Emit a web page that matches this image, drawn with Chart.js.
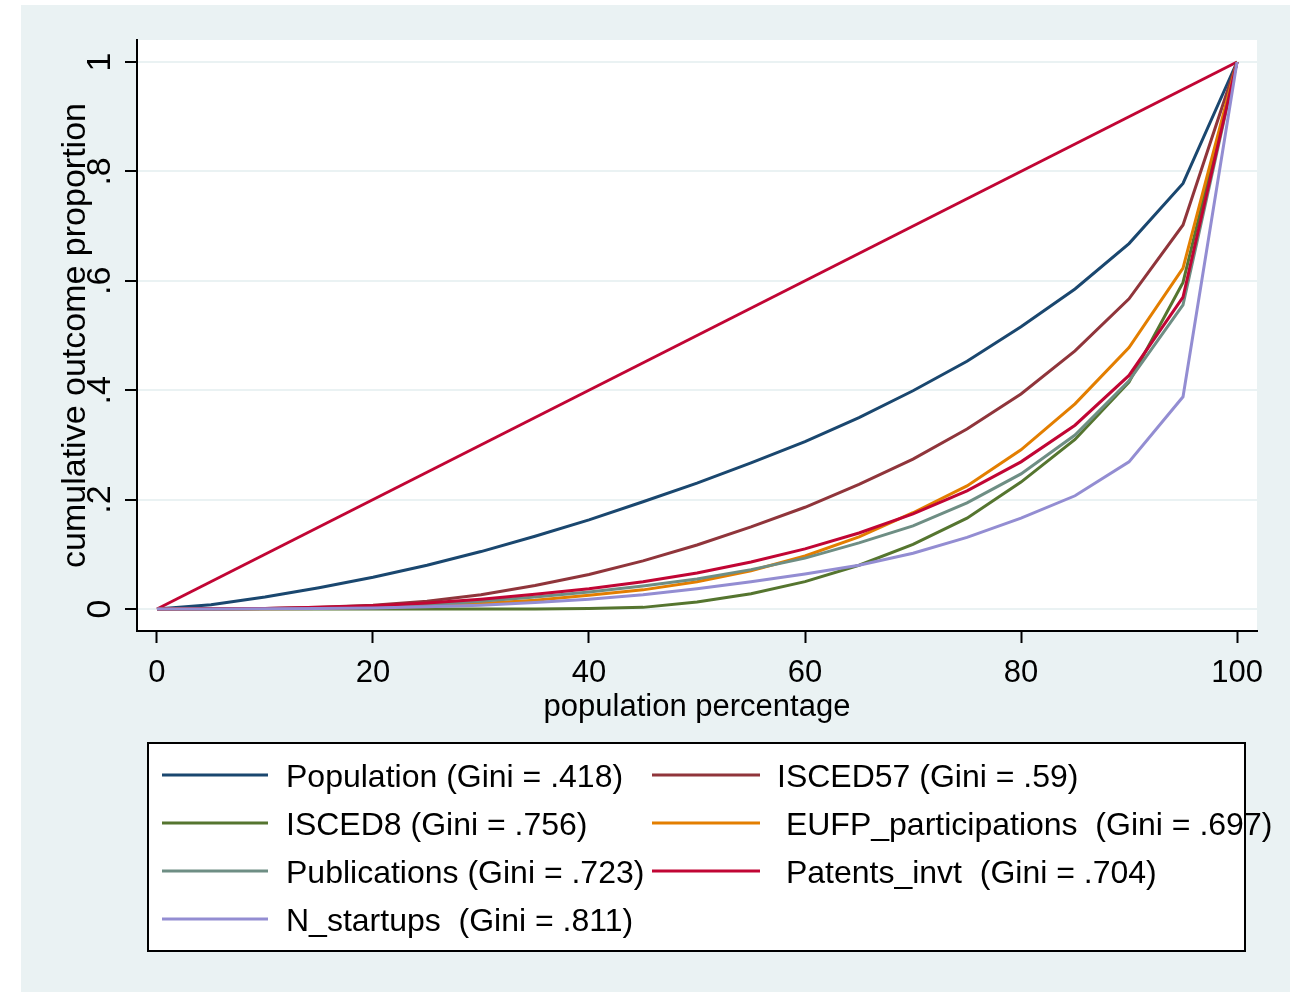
<!DOCTYPE html>
<html>
<head>
<meta charset="utf-8">
<title>Lorenz curves</title>
<script src="https://cdn.jsdelivr.net/npm/chart.js@4.4.1/dist/chart.umd.min.js"></script>
<style>
  html, body { margin: 0; padding: 0; background: #fff; }
  #wrap { position: relative; width: 1294px; height: 992px; }
</style>
</head>
<body>
<div id="wrap"><canvas id="lorenz" width="1294" height="992"></canvas></div>
<script>
// --- values (cumulative share at each 5% of population) ---
const popPct = [0, 5, 10, 15, 20, 25, 30, 35, 40, 45, 50, 55, 60, 65, 70, 75, 80, 85, 90, 95, 100];

const population   = [0, .008, .022, .039, .058, .080, .105, .133, .163, .196, .230, .267, .306, .350, .399, .453, .516, .585, .668, .778, 1];
const isced57      = [0, .0005, .001, .003, .007, .014, .026, .043, .063, .088, .117, .150, .186, .228, .274, .329, .393, .472, .567, .702, 1];
const isced8       = [0, 0, 0, 0, 0, 0, 0, 0, .001, .003, .013, .028, .050, .080, .118, .166, .232, .310, .415, .597, 1];
const eufp         = [0, 0, .0005, .001, .003, .006, .010, .016, .025, .035, .050, .070, .097, .132, .176, .225, .291, .375, .478, .623, 1];
const publications = [0, 0, .001, .002, .004, .008, .014, .022, .031, .042, .055, .072, .093, .121, .152, .194, .247, .318, .417, .556, 1];
const patents      = [0, .0003, .001, .003, .006, .011, .018, .027, .037, .050, .066, .086, .110, .139, .174, .216, .269, .336, .427, .570, 1];
const startups     = [0, 0, .0005, .001, .002, .004, .007, .012, .018, .026, .037, .050, .064, .080, .102, .131, .166, .207, .269, .388, 1];

// line of perfect equality
const equalityX = [0, 100];
const equalityY = [0, 1];

const seriesLabels = [
    'Population (Gini = .418)',
    'ISCED57 (Gini = .59)',
    'ISCED8 (Gini = .756)',
    ' EUFP_participations  (Gini = .697)',
    'Publications (Gini = .723)',
    ' Patents_invt  (Gini = .704)',
    'N_startups  (Gini = .811)'
];
const seriesValues = [population, isced57, isced8, eufp, publications, patents, startups];
const seriesColors = ['#1A476F', '#90353B', '#55752F', '#E37E00', '#6E8E84', '#C10534', '#938DD2'];

const xTicks = [0, 20, 40, 60, 80, 100];
const yTicks = [0, .2, .4, .6, .8, 1];
const yTickLabels = ['0', '.2', '.4', '.6', '.8', '1'];

const FONT = '"Liberation Sans", Arial, Helvetica, sans-serif';
Chart.defaults.font.family = FONT;
Chart.defaults.color = '#000';

const toPoints = (xs, ys) => xs.map((x, i) => ({ x, y: ys[i] }));

// Stata draws later plots on top; chart.js draws lower "order" on top
const datasets = [{
    label: 'equality',
    data: toPoints(equalityX, equalityY),
    borderColor: '#C10534',
    order: 100,
    inLegend: false
}].concat(seriesValues.map((vals, i) => ({
    label: seriesLabels[i],
    data: toPoints(popPct, vals),
    borderColor: seriesColors[i],
    order: seriesValues.length - i,
    inLegend: true
})));

// --- background: outer graph region + white plot region ---
const backdrop = {
    id: 'backdrop',
    beforeDraw(chart) {
        const { ctx, chartArea: a } = chart;
        ctx.save();
        ctx.fillStyle = '#fff';
        ctx.fillRect(0, 0, chart.width, chart.height);
        ctx.fillStyle = '#EAF2F3';
        ctx.fillRect(21, 5, 1269, 987);
        ctx.fillStyle = '#fff';
        ctx.fillRect(a.left, a.top, a.right - a.left, a.bottom - a.top);
        ctx.restore();
    }
};

// --- vertical y tick labels (Stata rotates them) ---
const yTickText = {
    id: 'yTickText',
    afterDraw(chart) {
        const { ctx, scales: { y } } = chart;
        ctx.save();
        ctx.font = '34px ' + FONT;
        ctx.fillStyle = '#000';
        ctx.textAlign = 'center';
        ctx.textBaseline = 'alphabetic';
        yTicks.forEach((v, i) => {
            ctx.save();
            ctx.translate(110, y.getPixelForValue(v));
            ctx.rotate(-Math.PI / 2);
            ctx.fillText(yTickLabels[i], 0, 0);
            ctx.restore();
        });
        ctx.restore();
    }
};

// --- boxed two-column legend under the plot ---
const boxLegend = {
    id: 'boxLegend',
    afterDraw(chart) {
        const { ctx } = chart;
        const box = { left: 148, top: 743, width: 1097, height: 208 };
        const cols = [{ from: 162, to: 268, text: 286 }, { from: 652, to: 760, text: 777 }];
        const rows = [775, 823, 871, 919];
        const items = chart.data.datasets.filter(d => d.inLegend);

        ctx.save();
        ctx.fillStyle = '#fff';
        ctx.fillRect(box.left, box.top, box.width, box.height);
        ctx.font = '32px ' + FONT;
        ctx.textBaseline = 'alphabetic';
        items.forEach((d, i) => {
            const c = cols[i % 2];
            const ry = rows[Math.floor(i / 2)];
            ctx.strokeStyle = d.borderColor;
            ctx.lineWidth = 3;
            ctx.beginPath();
            ctx.moveTo(c.from, ry);
            ctx.lineTo(c.to, ry);
            ctx.stroke();
            ctx.fillStyle = '#000';
            ctx.fillText(d.label, c.text, ry + 12);
        });
        ctx.strokeStyle = '#000';
        ctx.lineWidth = 2;
        ctx.strokeRect(box.left, box.top, box.width, box.height);
        ctx.restore();
    }
};

new Chart(document.getElementById('lorenz').getContext('2d'), {
    type: 'line',
    data: { datasets },
    options: {
        responsive: false,
        animation: false,
        layout: { padding: { left: 21, top: 40, right: 37, bottom: 252 } },
        elements: {
            point: { radius: 0 },
            line: { tension: 0, borderWidth: 3, fill: false }
        },
        plugins: {
            legend: { display: false },
            tooltip: { enabled: false }
        },
        scales: {
            x: {
                type: 'linear',
                min: -1.85,
                max: 101.85,
                afterBuildTicks: s => { s.ticks = xTicks.map(v => ({ value: v })); },
                afterFit: s => { s.height = 109; },
                grid: { drawOnChartArea: false, tickLength: 12, tickColor: '#000', tickWidth: 2 },
                border: { color: '#000', width: 2 },
                ticks: { color: '#000', font: { size: 31 }, padding: 12, maxRotation: 0 },
                title: { display: true, text: 'population percentage', color: '#000', font: { size: 31 }, padding: { top: 0, bottom: 14 } }
            },
            y: {
                type: 'linear',
                min: -0.0402,
                max: 1.0402,
                afterBuildTicks: s => { s.ticks = yTicks.map(v => ({ value: v })); },
                afterFit: s => { s.width = 116; },
                grid: { color: '#EAF2F3', lineWidth: 2, tickLength: 12, tickColor: '#000', tickWidth: 2 },
                border: { color: '#000', width: 2 },
                ticks: { display: false },
                title: { display: true, text: 'cumulative outcome proportion', color: '#000', font: { size: 34 }, padding: { top: 34, bottom: 0 } }
            }
        }
    },
    plugins: [backdrop, yTickText, boxLegend]
});
</script>
</body>
</html>
